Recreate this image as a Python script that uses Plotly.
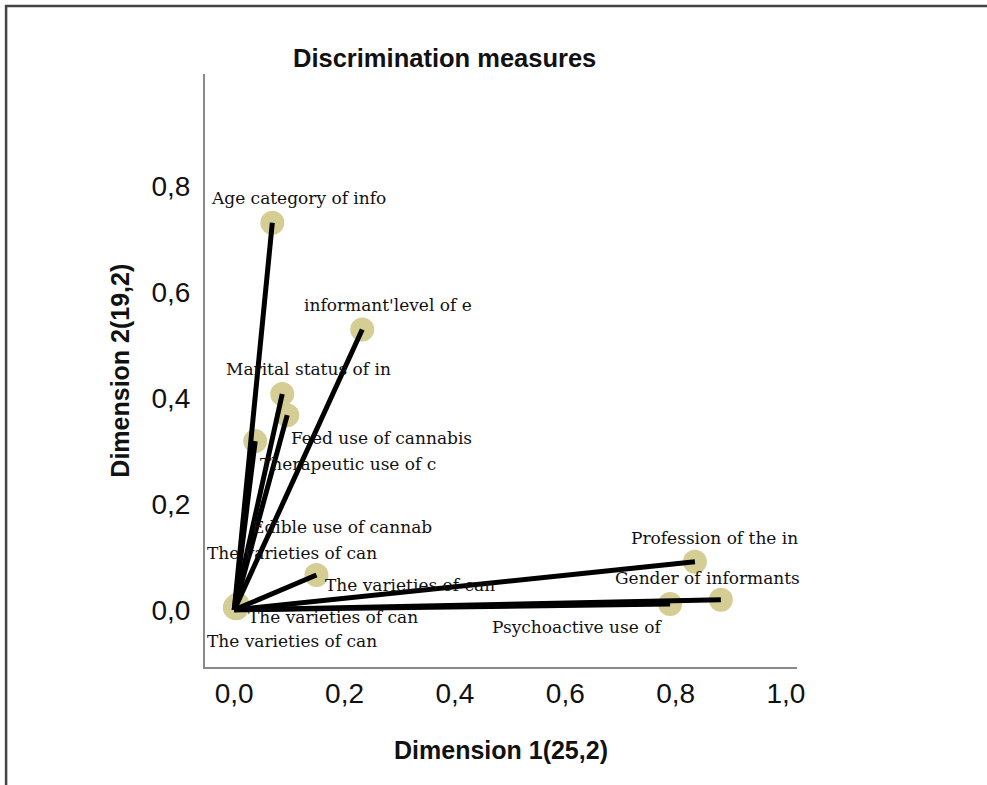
import plotly.graph_objects as go

# ---- data ----
labels = [
    "Age category of info",
    "informant'level of e",
    "Marital status of in",
    "Feed use of cannabis",
    "Therapeutic use of c",
    "Edible use of cannab",
    "The varieties of can",
    "The varieties of can",
    "The varieties of can",
    "The varieties of can",
    "Profession of the in",
    "Gender of informants",
    "Psychoactive use of",
]
dim1 = [0.069, 0.232, 0.087, 0.096, 0.038, 0.006, 0.002, 0.149, 0.004, 0.001, 0.835, 0.882, 0.790]
dim2 = [0.732, 0.530, 0.408, 0.368, 0.319, 0.010, 0.006, 0.066, 0.003, 0.004, 0.091, 0.019, 0.011]

x_ticks = [0.0, 0.2, 0.4, 0.6, 0.8, 1.0]
y_ticks = [0.0, 0.2, 0.4, 0.6, 0.8]

# label placement (pixel shifts relative to the point)
label_shift = [
    (26, 25), (26, 25), (26, 25), (94, -23), (93, -23), (104, 78),
    (57, 54), (94, -10), (97, -9), (57, -33), (20, 24), (-13, 22), (-93, -23),
]

fig = go.Figure()

fig.add_trace(go.Scatter(
    x=dim1, y=dim2, mode="markers",
    marker=dict(size=24, color="rgb(212,206,148)", line=dict(width=0)),
    hoverinfo="skip", showlegend=False,
))

lx, ly = [], []
for a, b in zip(dim1, dim2):
    lx += [0, a, None]
    ly += [0, b, None]
fig.add_trace(go.Scatter(
    x=lx, y=ly, mode="lines",
    line=dict(color="black", width=5),
    hoverinfo="skip", showlegend=False,
))

for lab, a, b, (dx, dy) in zip(labels, dim1, dim2, label_shift):
    fig.add_annotation(
        x=a, y=b, xref="x", yref="y", text=lab, showarrow=False,
        xshift=dx, yshift=dy, xanchor="center", yanchor="middle",
        font=dict(family="DejaVu Serif", size=17, color="#111"),
    )

# title and axis titles
fig.add_annotation(x=0.405, y=1.027, xref="paper", yref="paper",
                   text="<b>Discrimination measures</b>", showarrow=False,
                   xanchor="center", yanchor="middle",
                   font=dict(family="Liberation Sans", size=25.5, color="#111"))
fig.add_annotation(x=0.5, y=-0.14, xref="paper", yref="paper",
                   text="<b>Dimension 1(25,2)</b>", showarrow=False,
                   xanchor="center", yanchor="middle",
                   font=dict(family="Liberation Sans", size=25, color="#111"))
fig.add_annotation(x=-0.145, y=0.5, xref="paper", yref="paper",
                   text="<b>Dimension 2(19,2)</b>", showarrow=False, textangle=-90,
                   xanchor="center", yanchor="middle",
                   font=dict(family="Liberation Sans", size=25, color="#111"))

# outer frame (top and left edges)
fig.add_shape(type="line", xref="paper", yref="paper",
              x0=-0.338, x1=1.4, y0=1.1147, y1=1.1147,
              line=dict(color="#444", width=2.5))
fig.add_shape(type="line", xref="paper", yref="paper",
              x0=-0.336, x1=-0.336, y0=1.1147, y1=-0.25,
              line=dict(color="#444", width=2.5))

fig.update_layout(
    width=987, height=785,
    margin=dict(l=205, r=190, t=74, b=118),
    paper_bgcolor="white", plot_bgcolor="white",
    separators=",.",
    xaxis=dict(range=[-0.053, 1.02], tickvals=x_ticks, tickformat=".1f",
               showgrid=False, zeroline=False, showline=True,
               linecolor="#8a8a8a", linewidth=2, ticks="",
               ticklabelstandoff=0,
               tickfont=dict(family="Liberation Sans", size=28, color="#111")),
    yaxis=dict(range=[-0.108, 1.013], tickvals=y_ticks, tickformat=".1f",
               showgrid=False, zeroline=False, showline=True,
               linecolor="#8a8a8a", linewidth=2, ticks="",
               ticklabelstandoff=7,
               tickfont=dict(family="Liberation Sans", size=28, color="#111")),
)

fig.write_html("out.html", config={"displayModeBar": False},
               post_script="document.body.style.margin='0px';")
